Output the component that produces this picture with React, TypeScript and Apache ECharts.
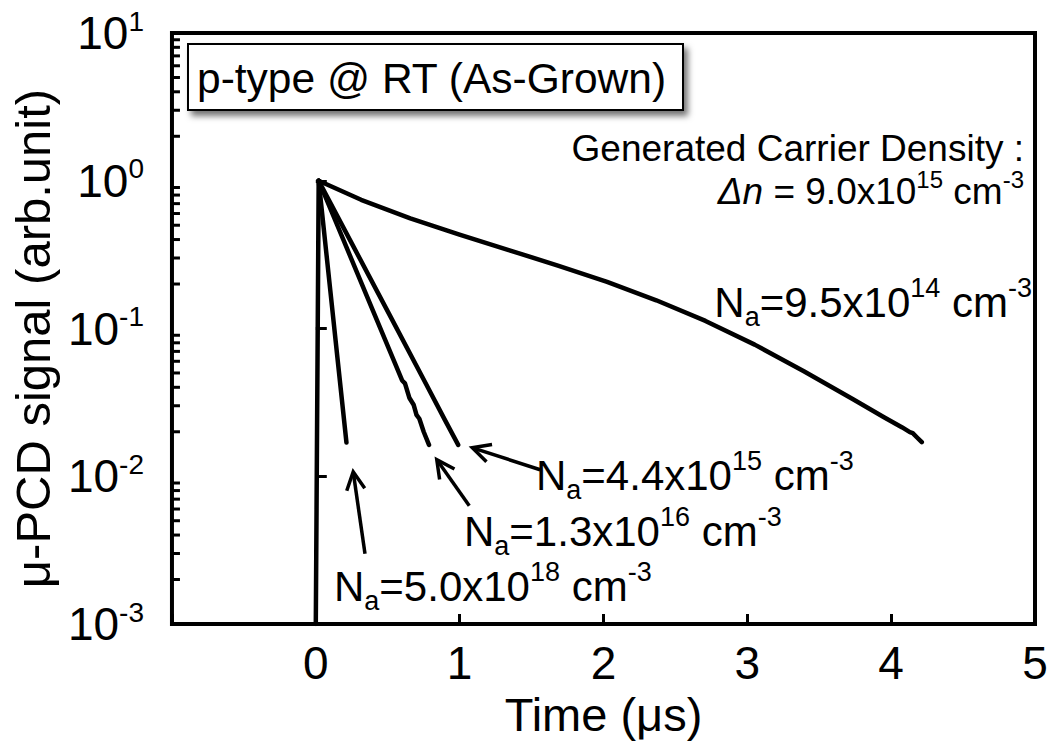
import React, { useEffect, useRef } from "react";
import * as echarts from "echarts";

const FF = "'Liberation Sans', Arial, Helvetica, sans-serif";

// Excitation rise (t in µs, signal)
const riseT = [0, 0.02];
const riseY = [0.001, 1];

// Na = 9.5x10^14 cm^-3
const c1T = [0.02, 0.315, 0.657, 0.999, 1.341, 1.683, 2.025, 2.367, 2.709, 3.051, 3.393, 3.735, 3.95, 4.077, 4.13, 4.15, 4.18, 4.213];
const c1Y = [1.0, 0.743, 0.557, 0.4325, 0.3396, 0.2667, 0.207, 0.1552, 0.1125, 0.0778, 0.0514, 0.0332, 0.0251, 0.0214, 0.0199, 0.0196, 0.0183, 0.017];

// Na = 4.4x10^15 cm^-3
const c2T = [0.02, 0.25, 0.5, 0.75, 0.9, 0.99];
const c2Y = [1.0, 0.377, 0.1306, 0.0452, 0.0238, 0.0163];

// Na = 1.3x10^16 cm^-3
const c3T = [0.02, 0.2, 0.4, 0.55, 0.6, 0.62, 0.65, 0.68, 0.7, 0.72, 0.75, 0.787];
const c3Y = [1.0, 0.381, 0.13, 0.0582, 0.0445, 0.0425, 0.034, 0.0305, 0.026, 0.0245, 0.02, 0.0163];

// Na = 5.0x10^18 cm^-3
const c4T = [0.02, 0.1, 0.15, 0.213];
const c4Y = [1.0, 0.184, 0.0638, 0.0169];

// Arrow annotations: [tailT, tailY, tipT, tipY]
const arrows = [
  [1.56, 0.01107, 1.088, 0.0156],
  [1.067, 0.00631, 0.841, 0.01294],
  [0.342, 0.002987, 0.26, 0.01072],
];

const xTicks = [-1, 0, 1, 2, 3, 4, 5];
const yMin = 0.001;
const yMax = 10;

const pairs = (t: number[], y: number[]) => t.map((v, i) => [v, y[i]]);

const mkRich = (base: number, small: number, extra: number) => ({
  b: { fontSize: base, fontFamily: FF, lineHeight: base + extra, fill: "#000" },
  sub: { fontSize: small, fontFamily: FF, lineHeight: small, fill: "#000", verticalAlign: "bottom" },
  sup: { fontSize: small, fontFamily: FF, lineHeight: small, fill: "#000", verticalAlign: "top" },
  it: { fontSize: base, fontFamily: FF, lineHeight: base + extra, fill: "#000", fontStyle: "italic" },
});

export default function App() {
  const ref = useRef<HTMLDivElement>(null);
  useEffect(() => {
    document.body.style.margin = "0";
    const chart = echarts.init(ref.current!, undefined, { renderer: "svg" });
    const lineSeries = (name: string, t: number[], y: number[]) => ({
      name,
      type: "line",
      data: pairs(t, y),
      showSymbol: false,
      symbol: "none",
      lineStyle: { color: "#000", width: 4.5, join: "round", cap: "round" },
      clip: true,
      z: 3,
    });
    chart.setOption({
      animation: false,
      backgroundColor: "#fff",
      grid: { left: 158, right: 16, top: 33, bottom: 127, show: true, borderColor: "#000", borderWidth: 4, backgroundColor: "transparent" },
      xAxis: {
        type: "value",
        min: -1,
        max: 5,
        interval: 1,
        name: "Time (\u03bcs)",
        nameLocation: "middle",
        nameGap: 60,
        nameTextStyle: { fontSize: 47, fontFamily: FF, color: "#000" },
        axisLine: { show: false },
        axisTick: { show: true, inside: true, length: 10, lineStyle: { color: "#000", width: 3 } },
        splitLine: { show: false },
        axisLabel: {
          fontSize: 46,
          fontFamily: FF,
          color: "#000",
          margin: 16,
          formatter: (v: number) => (xTicks.indexOf(v) > 0 ? String(v) : ""),
        },
      },
      yAxis: {
        type: "log",
        logBase: 10,
        min: yMin,
        max: yMax,
        name: "\u03bc-PCD signal (arb.unit)",
        nameLocation: "middle",
        nameGap: 108,
        nameTextStyle: { fontSize: 49, fontFamily: FF, color: "#000", padding: [0, 20, 0, 0] },
        axisLine: { show: false },
        axisTick: { show: true, inside: true, length: 11, lineStyle: { color: "#000", width: 3 } },
        splitLine: { show: false },
        axisLabel: {
          margin: 28,
          formatter: (v: number) => `{b|10}{s|${Math.round(Math.log10(v))}}`,
          rich: {
            b: { fontSize: 46, fontFamily: FF, color: "#000", lineHeight: 52 },
            s: { fontSize: 28, fontFamily: FF, color: "#000", lineHeight: 30, verticalAlign: "top" },
          },
        },
      },
      series: [
        lineSeries("rise", riseT, riseY),
        lineSeries("Na=9.5e14", c1T, c1Y),
        lineSeries("Na=4.4e15", c2T, c2Y),
        lineSeries("Na=1.3e16", c3T, c3Y),
        lineSeries("Na=5.0e18", c4T, c4Y),
      ],
    });

    const px = (t: number, y: number) => chart.convertToPixel({ gridIndex: 0 }, [t, y]) as number[];
    const graphics: any[] = [];
    const leftX = px(-1, 1)[0];
    // minor log ticks
    for (let k = -3; k <= 0; k++) {
      for (let m = 2; m <= 9; m++) {
        const yy = px(0, m * Math.pow(10, k))[1];
        graphics.push({ type: "line", shape: { x1: leftX, y1: yy, x2: leftX + 8, y2: yy }, style: { stroke: "#000", lineWidth: 3 }, z: 5 });
      }
    }
    // arrows
    arrows.forEach(([t0, y0, t1, y1]) => {
      const a = px(t0, y0);
      const b = px(t1, y1);
      const dx = b[0] - a[0];
      const dy = b[1] - a[1];
      const len = Math.hypot(dx, dy);
      const ux = dx / len;
      const uy = dy / len;
      const L = 20;
      const th = (27 * Math.PI) / 180;
      const rot = (s: number) => [
        b[0] - L * (ux * Math.cos(s * th) - uy * Math.sin(s * th)),
        b[1] - L * (ux * Math.sin(s * th) + uy * Math.cos(s * th)),
      ];
      graphics.push({ type: "line", shape: { x1: a[0], y1: a[1], x2: b[0] - ux * 2, y2: b[1] - uy * 2 }, style: { stroke: "#000", lineWidth: 3.5 }, z: 6 });
      graphics.push({ type: "polyline", shape: { points: [rot(1), b, rot(-1)] }, style: { stroke: "#000", lineWidth: 3.5, fill: null, lineJoin: "miter" }, z: 6 });
    });
    // title box
    graphics.push({
      type: "rect",
      shape: { x: 188, y: 44, width: 495, height: 66 },
      style: { fill: "#fff", stroke: "#000", lineWidth: 2, shadowBlur: 6, shadowOffsetX: 4, shadowOffsetY: 5, shadowColor: "rgba(0,0,0,0.55)" },
      z: 7,
    });
    graphics.push({
      type: "text",
      x: 197,
      y: 78,
      style: { text: "p-type @ RT (As-Grown)", fontSize: 42.5, fontFamily: FF, fill: "#000", textVerticalAlign: "middle", textAlign: "left" },
      z: 8,
    });
    const rt = (text: string, x: number, y: number, align: string, base: number, small: number, extra: number) => ({
      type: "text",
      x,
      y,
      style: { text, rich: mkRich(base, small, extra), fontSize: base, fontFamily: FF, fill: "#000", textAlign: align, textVerticalAlign: "middle" },
      z: 8,
    });
    graphics.push(rt("{b|Generated Carrier Density :}", 1024, 148, "right", 37, 24, 0));
    graphics.push(rt("{it|\u0394n}{b| = 9.0x10}{sup|15}{b| cm}{sup|-3}", 1024, 191, "right", 37, 24, 10));
    graphics.push(rt("{b|N}{sub|a}{b|=9.5x10}{sup|14}{b| cm}{sup|-3}", 1032, 302, "right", 42, 27, 14));
    graphics.push(rt("{b|N}{sub|a}{b|=4.4x10}{sup|15}{b| cm}{sup|-3}", 536, 475, "left", 42, 27, 14));
    graphics.push(rt("{b|N}{sub|a}{b|=1.3x10}{sup|16}{b| cm}{sup|-3}", 464, 531, "left", 42, 27, 14));
    graphics.push(rt("{b|N}{sub|a}{b|=5.0x10}{sup|18}{b| cm}{sup|-3}", 334, 586, "left", 42, 27, 14));
    chart.setOption({ graphic: graphics });
    return () => chart.dispose();
  }, []);
  return <div ref={ref} style={{ width: 1051, height: 751 }} />;
}
